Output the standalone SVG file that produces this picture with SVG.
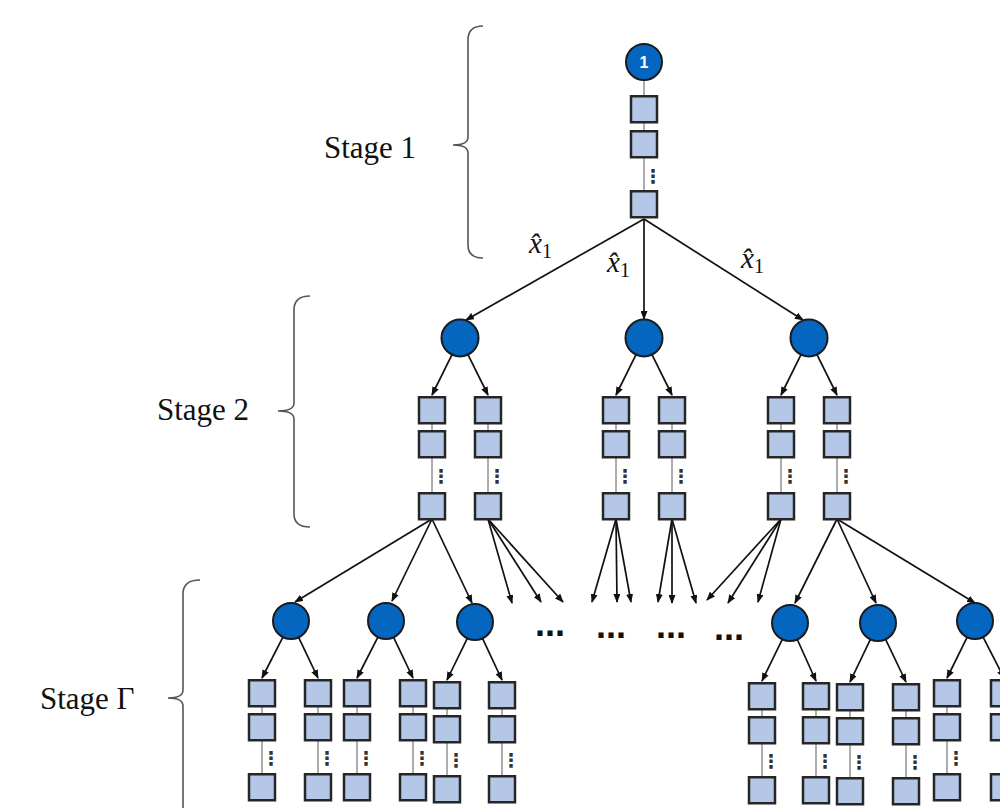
<svg xmlns="http://www.w3.org/2000/svg" width="1000" height="808" viewBox="0 0 1000 808">
<defs>
<marker id="ah" markerUnits="userSpaceOnUse" markerWidth="9" markerHeight="7" refX="8" refY="3.5" orient="auto"><path d="M0,0 L9,3.5 L0,7 z" fill="#111"/></marker>
<style>
.sq{fill:#b4c7e7;stroke:#262626;stroke-width:2.5}
.ch{stroke:#777;stroke-width:1.2;fill:none}
.vd{font-family:"DejaVu Sans",sans-serif;font-size:19px;font-weight:bold;fill:#333;text-anchor:middle}
.nd{fill:#0566c0;stroke:#1b1b1b;stroke-width:2}
.ar{stroke:#111;stroke-width:1.7;fill:none;marker-end:url(#ah)}
.br{stroke:#555;stroke-width:1.6;fill:none}
.st{font-family:"Liberation Serif",serif;font-size:31px;fill:#111}
.lb{font-family:"Liberation Serif",serif;font-size:29px;font-style:italic;fill:#111}
.sb{font-family:"Liberation Serif",serif;font-size:20px;font-style:normal}
.el{font-family:"Liberation Sans",sans-serif;font-size:36px;font-weight:bold;fill:#111;text-anchor:middle}
</style>
</defs>
<rect width="1000" height="808" fill="#fff"/>

<g id="braces">
<path class="br" d="M483,26 Q468,26 468,40 L468,137 Q468,145 453,145 Q468,145 468,153 L468,245 Q468,258 483,258"/>
<path class="br" d="M310,296 Q294,296 294,310 L294,403 Q294,411 278,411 Q294,411 294,419 L294,514 Q294,527 310,527"/>
<path class="br" d="M200,580 Q183,580 183,594 L183,690 Q183,698 168,698 Q183,698 183,706 L183,815"/>
</g>
<g id="stage-labels">
<text class="st" x="324" y="158">Stage 1</text>
<text class="st" x="157" y="420">Stage 2</text>
<text class="st" x="40" y="709">Stage Γ</text>
</g>

<g id="connectors">
<path class="ar" d="M644,219 L466,320"/>
<path class="ar" d="M644,219 L644,319"/>
<path class="ar" d="M644,219 L803,320"/>
<path class="ar" d="M452,354.7 L432,395"/>
<path class="ar" d="M468,354.7 L488,395"/>
<path class="ar" d="M636,354.7 L616,395"/>
<path class="ar" d="M652,354.7 L672,395"/>
<path class="ar" d="M801,354.7 L781,395"/>
<path class="ar" d="M817,354.7 L837,395"/>
<path class="ar" d="M432,519 L295,602"/>
<path class="ar" d="M432,519 L392,601"/>
<path class="ar" d="M432,519 L472,603"/>
<path class="ar" d="M488,519 L512,603"/>
<path class="ar" d="M488,519 L541,602"/>
<path class="ar" d="M488,519 L563,602"/>
<path class="ar" d="M616,519 L592,602"/>
<path class="ar" d="M616,519 L617,602"/>
<path class="ar" d="M616,519 L631,602"/>
<path class="ar" d="M672,519 L658,602"/>
<path class="ar" d="M672,519 L672,603"/>
<path class="ar" d="M672,519 L696,603"/>
<path class="ar" d="M781,519 L707,600"/>
<path class="ar" d="M781,519 L728,603"/>
<path class="ar" d="M781,519 L758,602"/>
<path class="ar" d="M837,519 L795,603"/>
<path class="ar" d="M837,519 L876,603"/>
<path class="ar" d="M837,519 L975,603"/>
<path class="ar" d="M282.9,637.1 L262,678"/>
<path class="ar" d="M298.6,637.3 L318,678"/>
<path class="ar" d="M377.9,637.1 L357,678"/>
<path class="ar" d="M393.6,637.3 L413,678"/>
<path class="ar" d="M467.3,638.3 L447,680"/>
<path class="ar" d="M482.5,638.4 L502,680"/>
<path class="ar" d="M782.3,639.3 L762,681"/>
<path class="ar" d="M797.3,639.5 L816,681"/>
<path class="ar" d="M870.4,639.3 L850,682"/>
<path class="ar" d="M885.6,639.3 L906,682"/>
<path class="ar" d="M967.2,637.2 L947,678"/>
<path class="ar" d="M983.1,637.1 L1004,678"/>
<text class="lb" x="529" y="253">x̂<tspan class="sb" dy="5">1</tspan></text>
<text class="lb" x="607" y="272">x̂<tspan class="sb" dy="5">1</tspan></text>
<text class="lb" x="741" y="268">x̂<tspan class="sb" dy="5">1</tspan></text>
</g>

<g id="ellipses">
<text class="el" x="550" y="636">...</text>
<text class="el" x="611" y="638">...</text>
<text class="el" x="671" y="638">...</text>
<text class="el" x="729" y="640">...</text>
</g>

<g id="root">
<line class="ch" x1="644" y1="80" x2="644" y2="218"/>
<circle class="nd" cx="644" cy="62" r="18"/>
<text x="644" y="68" font-family="Liberation Sans, sans-serif" font-size="16" font-weight="bold" fill="#fff" text-anchor="middle">1</text>
</g>
<g id="chain-s1">
<rect class="sq" x="631" y="96.25" width="26" height="26"/>
<rect class="sq" x="631" y="131.25" width="26" height="26"/>
<text class="vd" x="653" y="183">⋮</text>
<rect class="sq" x="631" y="191.25" width="26" height="26"/>
</g>

<g id="s2-node-a"><circle class="nd" cx="460" cy="338" r="18.5"/></g>
<g id="s2-node-b"><circle class="nd" cx="644" cy="338" r="18.5"/></g>
<g id="s2-node-c"><circle class="nd" cx="809" cy="338" r="18.5"/></g>

<g id="s2-chain-1"><line class="ch" x1="432" y1="397" x2="432" y2="518"/><rect class="sq" x="419" y="397.25" width="26" height="26"/><rect class="sq" x="419" y="431.25" width="26" height="26"/><text class="vd" x="441" y="483">⋮</text><rect class="sq" x="419" y="493.25" width="26" height="26"/></g>
<g id="s2-chain-2"><line class="ch" x1="488" y1="397" x2="488" y2="518"/><rect class="sq" x="475" y="397.25" width="26" height="26"/><rect class="sq" x="475" y="431.25" width="26" height="26"/><text class="vd" x="497" y="483">⋮</text><rect class="sq" x="475" y="493.25" width="26" height="26"/></g>
<g id="s2-chain-3"><line class="ch" x1="616" y1="397" x2="616" y2="518"/><rect class="sq" x="603" y="397.25" width="26" height="26"/><rect class="sq" x="603" y="431.25" width="26" height="26"/><text class="vd" x="625" y="483">⋮</text><rect class="sq" x="603" y="493.25" width="26" height="26"/></g>
<g id="s2-chain-4"><line class="ch" x1="672" y1="397" x2="672" y2="518"/><rect class="sq" x="659" y="397.25" width="26" height="26"/><rect class="sq" x="659" y="431.25" width="26" height="26"/><text class="vd" x="681" y="483">⋮</text><rect class="sq" x="659" y="493.25" width="26" height="26"/></g>
<g id="s2-chain-5"><line class="ch" x1="781" y1="397" x2="781" y2="518"/><rect class="sq" x="768" y="397.25" width="26" height="26"/><rect class="sq" x="768" y="431.25" width="26" height="26"/><text class="vd" x="790" y="483">⋮</text><rect class="sq" x="768" y="493.25" width="26" height="26"/></g>
<g id="s2-chain-6"><line class="ch" x1="837" y1="397" x2="837" y2="518"/><rect class="sq" x="824" y="397.25" width="26" height="26"/><rect class="sq" x="824" y="431.25" width="26" height="26"/><text class="vd" x="846" y="483">⋮</text><rect class="sq" x="824" y="493.25" width="26" height="26"/></g>

<g id="sg-node-1"><circle class="nd" cx="291" cy="621" r="18"/></g>
<g id="sg-node-2"><circle class="nd" cx="386" cy="621" r="18"/></g>
<g id="sg-node-3"><circle class="nd" cx="475" cy="622" r="18"/></g>
<g id="sg-node-4"><circle class="nd" cx="790" cy="623" r="18"/></g>
<g id="sg-node-5"><circle class="nd" cx="878" cy="623" r="18"/></g>
<g id="sg-node-6"><circle class="nd" cx="975" cy="621" r="18"/></g>

<g id="sg-chain-1"><line class="ch" x1="262" y1="680" x2="262" y2="800"/><rect class="sq" x="249" y="680.25" width="26" height="26"/><rect class="sq" x="249" y="714.25" width="26" height="26"/><text class="vd" x="271" y="765">⋮</text><rect class="sq" x="249" y="774.25" width="26" height="26"/></g>
<g id="sg-chain-2"><line class="ch" x1="318" y1="680" x2="318" y2="800"/><rect class="sq" x="305" y="680.25" width="26" height="26"/><rect class="sq" x="305" y="714.25" width="26" height="26"/><text class="vd" x="327" y="765">⋮</text><rect class="sq" x="305" y="774.25" width="26" height="26"/></g>
<g id="sg-chain-3"><line class="ch" x1="357" y1="680" x2="357" y2="800"/><rect class="sq" x="344" y="680.25" width="26" height="26"/><rect class="sq" x="344" y="714.25" width="26" height="26"/><text class="vd" x="366" y="765">⋮</text><rect class="sq" x="344" y="774.25" width="26" height="26"/></g>
<g id="sg-chain-4"><line class="ch" x1="413" y1="680" x2="413" y2="800"/><rect class="sq" x="400" y="680.25" width="26" height="26"/><rect class="sq" x="400" y="714.25" width="26" height="26"/><text class="vd" x="422" y="765">⋮</text><rect class="sq" x="400" y="774.25" width="26" height="26"/></g>
<g id="sg-chain-5"><line class="ch" x1="447" y1="682" x2="447" y2="802"/><rect class="sq" x="434" y="682.25" width="26" height="26"/><rect class="sq" x="434" y="716.25" width="26" height="26"/><text class="vd" x="456" y="767">⋮</text><rect class="sq" x="434" y="776.25" width="26" height="26"/></g>
<g id="sg-chain-6"><line class="ch" x1="502" y1="682" x2="502" y2="802"/><rect class="sq" x="489" y="682.25" width="26" height="26"/><rect class="sq" x="489" y="716.25" width="26" height="26"/><text class="vd" x="511" y="767">⋮</text><rect class="sq" x="489" y="776.25" width="26" height="26"/></g>
<g id="sg-chain-7"><line class="ch" x1="762" y1="683" x2="762" y2="803"/><rect class="sq" x="749" y="683.25" width="26" height="26"/><rect class="sq" x="749" y="717.25" width="26" height="26"/><text class="vd" x="771" y="768">⋮</text><rect class="sq" x="749" y="777.25" width="26" height="26"/></g>
<g id="sg-chain-8"><line class="ch" x1="816" y1="683" x2="816" y2="803"/><rect class="sq" x="803" y="683.25" width="26" height="26"/><rect class="sq" x="803" y="717.25" width="26" height="26"/><text class="vd" x="825" y="768">⋮</text><rect class="sq" x="803" y="777.25" width="26" height="26"/></g>
<g id="sg-chain-9"><line class="ch" x1="850" y1="684" x2="850" y2="804"/><rect class="sq" x="837" y="684.25" width="26" height="26"/><rect class="sq" x="837" y="718.25" width="26" height="26"/><text class="vd" x="859" y="769">⋮</text><rect class="sq" x="837" y="778.25" width="26" height="26"/></g>
<g id="sg-chain-10"><line class="ch" x1="906" y1="684" x2="906" y2="804"/><rect class="sq" x="893" y="684.25" width="26" height="26"/><rect class="sq" x="893" y="718.25" width="26" height="26"/><text class="vd" x="915" y="769">⋮</text><rect class="sq" x="893" y="778.25" width="26" height="26"/></g>
<g id="sg-chain-11"><line class="ch" x1="947" y1="680" x2="947" y2="800"/><rect class="sq" x="934" y="680.25" width="26" height="26"/><rect class="sq" x="934" y="714.25" width="26" height="26"/><text class="vd" x="956" y="765">⋮</text><rect class="sq" x="934" y="774.25" width="26" height="26"/></g>
<g id="sg-chain-12"><line class="ch" x1="1004" y1="680" x2="1004" y2="800"/><rect class="sq" x="991" y="680.25" width="26" height="26"/><rect class="sq" x="991" y="714.25" width="26" height="26"/><rect class="sq" x="991" y="774.25" width="26" height="26"/></g>
</svg>
